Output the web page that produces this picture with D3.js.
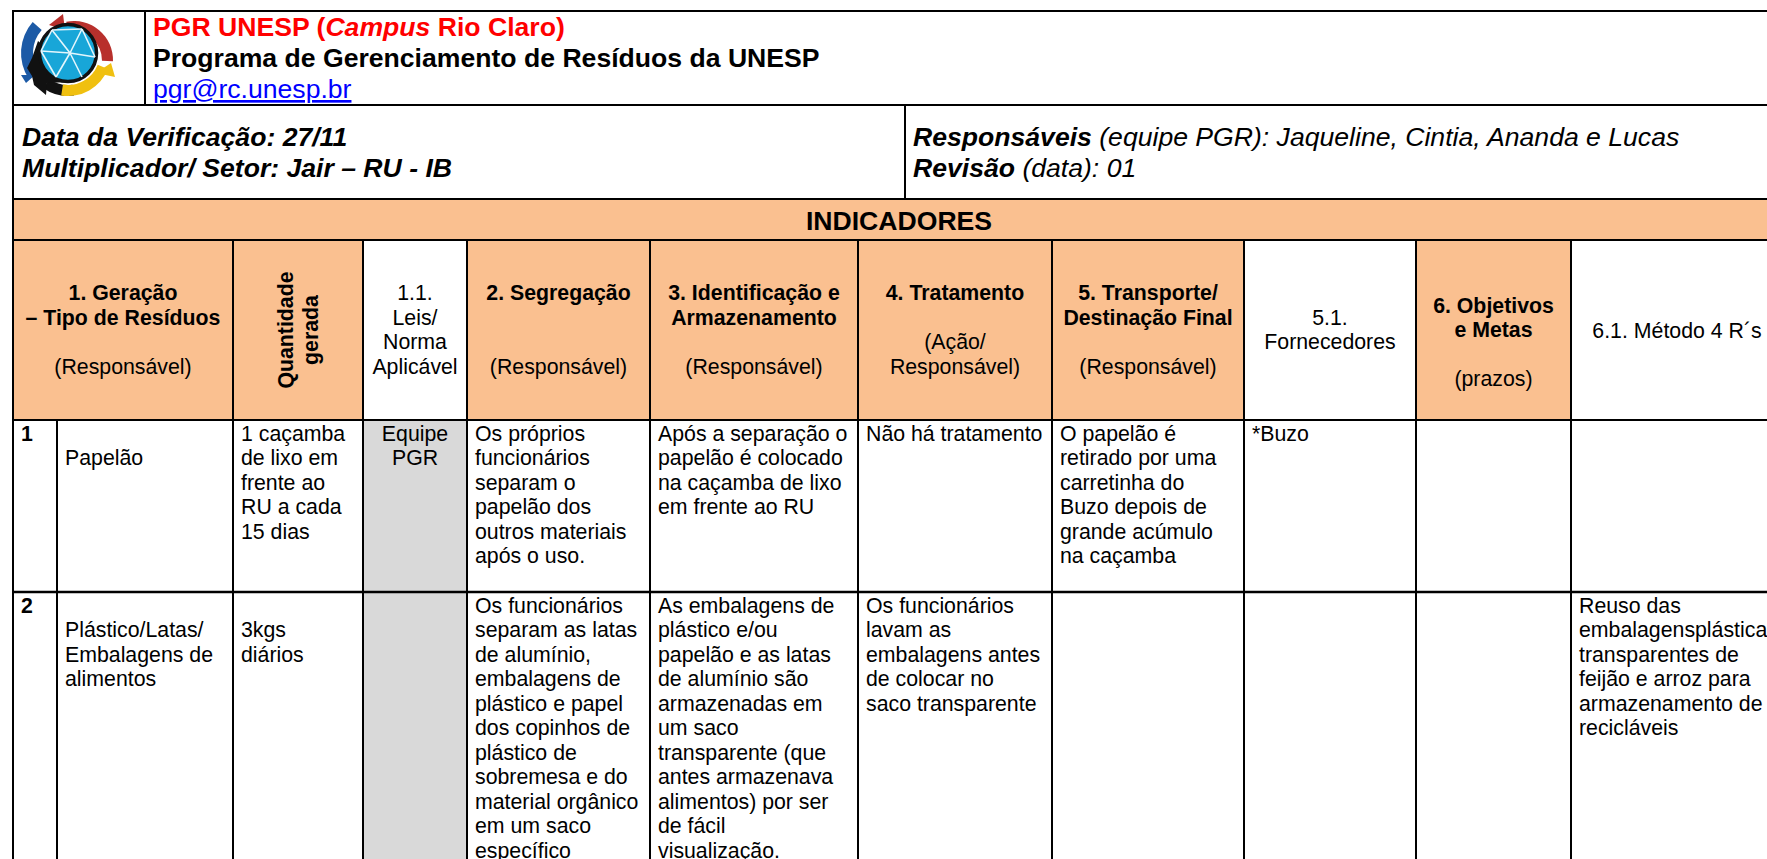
<!DOCTYPE html>
<html><head><meta charset="utf-8">
<script src="https://cdn.jsdelivr.net/npm/d3@7"></script>
<style>
html,body{margin:0;padding:0;background:#fff;overflow:hidden}
svg{display:block}
text{font-family:"Liberation Sans",Arial,sans-serif;fill:#000}
</style></head><body>
<svg id="c" width="1767" height="859"></svg>
<script>
const columnEdges=[13,57,233,363,467,650,858,1052,1244,1416,1571,1783];
const rowEdges=[11,105,199,240,420,592,880];
const orange="#fac090", grey="#d9d9d9";
const titleLines=[
 {parts:[["PGR UNESP (","b"],["Campus","bi"],[" Rio Claro)","b"]],color:"#ff0000"},
 {parts:[["Programa de Gerenciamento de Resíduos da UNESP","b"]],color:"#000"},
 {parts:[["pgr@rc.unesp.br",""]],color:"#0000ff",underline:true}];
const infoLeft=["Data da Verificação: 27/11","Multiplicador/ Setor: Jair – RU - IB"];
const infoRight=[[["Responsáveis","bi"],[" (equipe PGR): Jaqueline, Cintia, Ananda e Lucas","i"]],[["Revisão","bi"],[" (data): 01","i"]]];
const bandTitle="INDICADORES";
const headers=[
 {span:[0,2],fill:orange,lines:[["1. Geração","b"],["– Tipo de Resíduos","b"],["",""],["(Responsável)",""]],shift:0},
 {span:[2,3],fill:orange,rotated:["Quantidade","gerada"]},
 {span:[3,4],fill:"#fff",lines:[["1.1.",""],["Leis/",""],["Norma",""],["Aplicável",""]],shift:0},
 {span:[4,5],fill:orange,lines:[["2. Segregação","b"],["",""],["",""],["(Responsável)",""]],shift:0},
 {span:[5,6],fill:orange,lines:[["3. Identificação e","b"],["Armazenamento","b"],["",""],["(Responsável)",""]],shift:0},
 {span:[6,7],fill:orange,lines:[["4. Tratamento","b"],["",""],["(Ação/",""],["Responsável)",""]],shift:0},
 {span:[7,8],fill:orange,lines:[["5. Transporte/","b"],["Destinação Final","b"],["",""],["(Responsável)",""]],shift:0},
 {span:[8,9],fill:"#fff",lines:[["5.1.",""],["Fornecedores",""]],shift:1},
 {span:[9,10],fill:orange,lines:[["6. Objetivos","b"],["e Metas","b"],["",""],["(prazos)",""]],shift:0.52},
 {span:[10,11],fill:"#fff",lines:[["6.1. Método 4 R´s",""]],shift:1.55}];
const row1=[["1"],["","Papelão"],["1 caçamba","de lixo em","frente ao","RU a cada","15 dias"],["Equipe","PGR"],
 ["Os próprios","funcionários","separam o","papelão dos","outros materiais","após o uso."],
 ["Após a separação o","papelão é colocado","na caçamba de lixo","em frente ao RU"],
 ["Não há tratamento"],
 ["O papelão é","retirado por uma","carretinha do","Buzo depois de","grande acúmulo","na caçamba"],
 ["*Buzo"],[],[]];
const row2=[["2"],["","Plástico/Latas/","Embalagens de","alimentos"],["","3kgs","diários"],[],
 ["Os funcionários","separam as latas","de alumínio,","embalagens de","plástico e papel","dos copinhos de","plástico de","sobremesa e do","material orgânico","em um saco","específico"],
 ["As embalagens de","plástico e/ou","papelão e as latas","de alumínio são","armazenadas em","um saco","transparente (que","antes armazenava","alimentos) por ser","de fácil","visualização."],
 ["Os funcionários","lavam as","embalagens antes","de colocar no","saco transparente"],
 [],[],[],
 ["Reuso das","embalagensplásticas","transparentes de","feijão e arroz para","armazenamento de","recicláveis"]];

const FS=21.3, BIG=26.6, LH=24.5;
const svg=d3.select("#c");
const rects=svg.append("g"), marks=svg.append("g"), lines=svg.append("g"), txt=svg.append("g");

function box(x0,x1,y0,y1,fill){rects.append("rect").attr("x",x0).attr("y",y0).attr("width",x1-x0).attr("height",y1-y0).attr("fill",fill);}
function runs(parent,parts,color){parts.forEach(([t,s])=>{const sp=parent.append("tspan").text(t)
  .attr("font-weight",s.includes("b")?"bold":"normal").attr("font-style",s.includes("i")?"italic":"normal");
  if(color)sp.style("fill",color);});}

// fills
box(columnEdges[0],1790,rowEdges[2],rowEdges[3],orange);
headers.forEach(h=>box(columnEdges[h.span[0]],h.span[1]==11?1790:columnEdges[h.span[1]],rowEdges[3],rowEdges[4],h.fill));
box(columnEdges[3],columnEdges[4],rowEdges[4],rowEdges[6],grey);

// logo
const logo=marks.append("g").attr("transform","translate(68,53)");
const arc=d3.arc();
const seg=(a0,a1,r0,r1,col,dx=0,dy=0)=>logo.append("path").attr("transform",`translate(${dx},${dy})`).attr("d",arc({innerRadius:r0,outerRadius:r1,startAngle:a0,endAngle:a1})).attr("fill",col);
const poly=(pts,col)=>logo.append("path").attr("d",d3.line()(pts)+"Z").attr("fill",col);
seg(-0.2,1.6,28,39,"#b8302c",6,7);
poly([[-5,-39],[-19,-28],[-3,-23]],"#b8302c");
seg(-2.15,-0.85,35,47,"#1c5aa6");
poly([[-47,22],[-42,30],[-33,22]],"#1c5aa6");
seg(3.0,3.75,32,43,"#111");
seg(1.95,3.3,32,43,"#f0c010");
poly([[43,10],[28,20],[47,24]],"#f0c010");
poly([[-30,-12],[-36,5],[-41,15],[-36,23],[-34,32],[-22,42],[-21,30],[1,29],[-10,5]],"#111");
logo.append("circle").attr("r",28.5).attr("cy",0).attr("fill","#18a6d8").attr("stroke","#111").attr("stroke-width",3.5);
[[[-16,-23],[14,-24]],[[14,-24],[27,4]],[[-16,-23],[2,0]],[[14,-24],[2,0]],[[-27,-2],[2,0]],[[2,0],[27,4]],[[2,0],[-12,24]],[[2,0],[14,24]],[[-27,-2],[-12,24]],[[-16,-23],[-27,-2]]].forEach(s=>
 logo.append("path").attr("d",d3.line()(s)).attr("stroke","#e4f6fc").attr("stroke-width",1.6).attr("fill","none"));

// grid lines
function hl(x0,x1,yy,w){lines.append("line").attr("x1",x0).attr("x2",x1).attr("y1",yy).attr("y2",yy).attr("stroke","#000").attr("stroke-width",w);}
function vl(xx,y0,y1,w){lines.append("line").attr("x1",xx).attr("x2",xx).attr("y1",y0).attr("y2",y1).attr("stroke","#000").attr("stroke-width",w);}
rowEdges.slice(0,6).forEach((r,i)=>hl(12,1790,r,i==5?2.6:2));
vl(13,10,880,2); vl(145,11,105,2); vl(905,105,199,2);
columnEdges.slice(1,-1).forEach((c,i)=>vl(c,i==0?420:240,880,2));

// title
titleLines.forEach((l,i)=>{
  const t=txt.append("text").attr("x",153).attr("y",[36,67,98][i]).attr("font-size",BIG).style("fill",l.color);
  if(l.underline)t.attr("text-decoration","underline");
  runs(t,l.parts,l.color);
});
infoLeft.forEach((s,i)=>txt.append("text").attr("x",22).attr("y",[146,177][i]).attr("font-size",BIG)
  .attr("font-weight","bold").attr("font-style","italic").text(s));
infoRight.forEach((p,i)=>{const t=txt.append("text").attr("x",913).attr("y",[146,177][i]).attr("font-size",BIG);runs(t,p);});
txt.append("text").attr("x",899).attr("y",230).attr("text-anchor","middle").attr("font-size",BIG).attr("font-weight","bold").text(bandTitle);

// headers
headers.forEach(h=>{
  const cx=(columnEdges[h.span[0]]+columnEdges[h.span[1]])/2;
  if(h.rotated){
    h.rotated.forEach((s,i)=>txt.append("text").attr("transform",`translate(${cx-5+i*25},330) rotate(-90)`)
      .attr("text-anchor","middle").attr("font-size",FS).attr("font-weight","bold").text(s));
    return;
  }
  h.lines.forEach(([s,k],i)=>{ if(!s)return;
    txt.append("text").attr("x",cx).attr("y",rowEdges[3]+60+(h.shift+i)*LH)
     .attr("text-anchor","middle").attr("font-size",FS).attr("font-weight",k=="b"?"bold":"normal").text(s);
  });
});

// body
function bodyRow(data,r){
  data.forEach((ls,c)=>{
    const center=c==3;
    const xx=center?(columnEdges[c]+columnEdges[c+1])/2:columnEdges[c]+8;
    ls.forEach((s,i)=>{ if(!s)return;
      txt.append("text").attr("x",xx).attr("y",rowEdges[r]+20.5+i*LH)
        .attr("text-anchor",center?"middle":"start").attr("font-size",FS)
        .attr("font-weight",c==0?"bold":"normal").text(s);
    });
  });
}
bodyRow(row1,4); bodyRow(row2,5);
</script>
</body></html>
